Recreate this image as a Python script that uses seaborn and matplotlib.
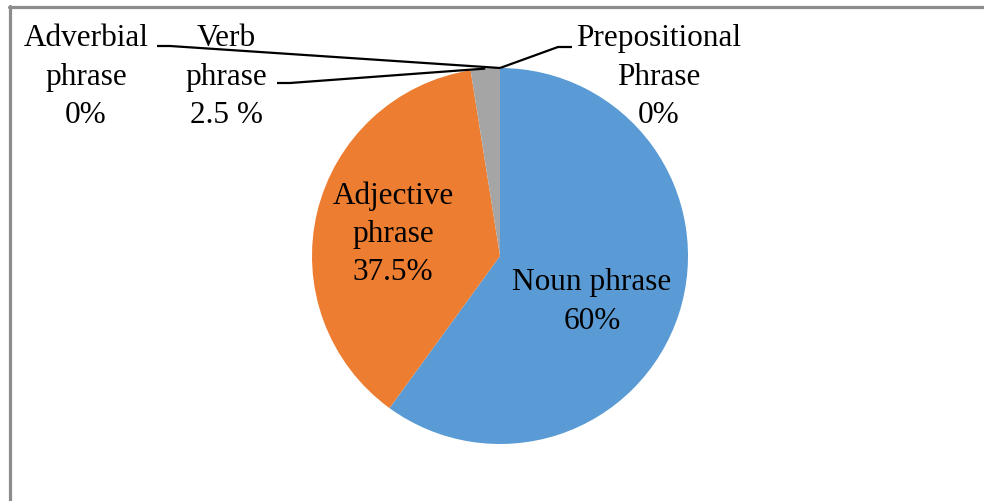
import matplotlib
matplotlib.use("Agg")
import matplotlib.pyplot as plt
import numpy as np
import seaborn as sns

# data
categories = ["Noun phrase", "Adjective phrase", "Verb phrase", "Adverbial phrase", "Prepositional Phrase"]
shares = [60, 37.5, 2.5, 0, 0]
label_texts = ["Noun phrase\n60%", "Adjective\nphrase\n37.5%", "Verb\nphrase\n2.5 %",
               "Adverbial\nphrase\n0%", "Prepositional\nPhrase\n0%"]
palette = ["#5B9BD5", "#ED7D31", "#A5A5A5", "#FFC000", "#4472C4"]

# layout (pixel coordinates of the 984x501 canvas, y downwards)
W, H = 984, 501
cx, cy, r = 500, 256, 188
label_pos = [(592, 302), (393, 234), (226, 77), (86, 77), (659, 77)]
# leader lines: (text end, elbow) for outside labels, None for inside labels
leaders = [None, None, [(277, 83), (290, 83)], [(157, 46), (170, 46)], [(572, 47), (558, 47)]]

sns.set_theme(style="white")
plt.rcParams["font.family"] = ["Liberation Serif", "DejaVu Serif"]

fig = plt.figure(figsize=(W / 100, H / 100), dpi=100)
ax = fig.add_axes([0, 0, 1, 1])
colors = sns.color_palette(palette)

ax.pie(shares, colors=colors, startangle=270, counterclock=True,
       center=(cx, cy), radius=r, frame=True,
       wedgeprops=dict(linewidth=0))
ax.set_xlim(0, W)
ax.set_ylim(H, 0)
ax.set_aspect("equal")
ax.axis("off")

# rim anchor for each slice (mid angle, clockwise from 12 o'clock)
total = sum(shares)
cum = np.cumsum([0] + shares[:-1])
for i, txt in enumerate(label_texts):
    mid = (cum[i] + shares[i] / 2) / total * 2 * np.pi
    ax.text(*label_pos[i], txt, ha="center", va="center", fontsize=22.5,
            color="black", linespacing=1.41)
    if leaders[i] is not None:
        ax_pt = (cx + r * np.sin(mid), cy - r * np.cos(mid))
        pts = leaders[i] + [ax_pt]
        ax.plot([p[0] for p in pts], [p[1] for p in pts], color="black", lw=1.6,
                solid_capstyle="butt")

# chart area border (top and left visible)
ax.plot([9, W], [6.5, 6.5], color="#8c8c8c", lw=2.3, clip_on=False)
ax.plot([9.5, 9.5], [5.5, H], color="#8c8c8c", lw=2.3, clip_on=False)

fig.savefig("out.png", dpi=100)
